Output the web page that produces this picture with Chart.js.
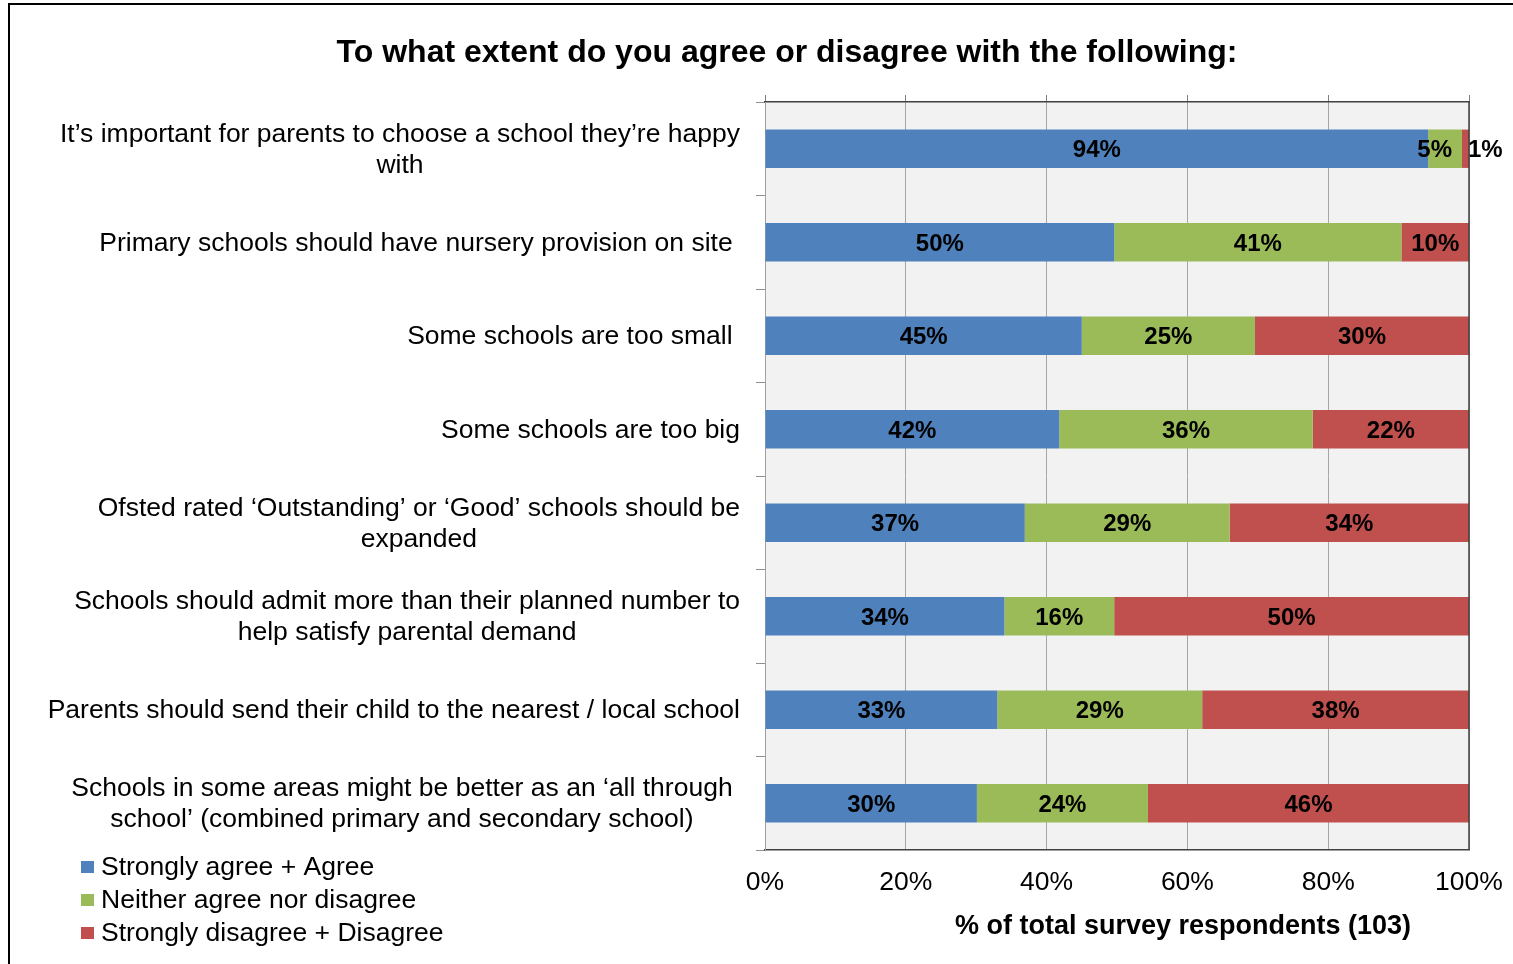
<!DOCTYPE html>
<html>
<head>
<meta charset="utf-8">
<script src="https://cdn.jsdelivr.net/npm/chart.js@4.4.1/dist/chart.umd.min.js"></script>
<style>
html,body{margin:0;padding:0;background:#fff;}
#wrap{position:relative;width:1513px;height:964px;overflow:hidden;}
canvas{display:block;}
</style>
</head>
<body>
<div id="wrap"><canvas id="c" width="1513" height="964"></canvas></div>
<script>
// ---- data ----
const chartTitle = "To what extent do you agree or disagree with the following:";
const xAxisTitle = "% of total survey respondents (103)";
const categories = [
  ["It’s important for parents to choose a school they’re happy", "with"],
  ["Primary schools should have nursery provision on site "],
  ["Some schools are too small "],
  ["Some schools are too big"],
  ["Ofsted rated ‘Outstanding’ or ‘Good’ schools should be", "expanded"],
  ["Schools should admit more than their planned number to", "help satisfy parental demand"],
  ["Parents should send their child to the nearest / local school"],
  ["Schools in some areas might be better as an ‘all through ", "school’ (combined primary and secondary school) "]
];
const seriesNames = ["Strongly agree + Agree", "Neither agree nor disagree", "Strongly disagree + Disagree"];
const agree    = [94.2, 49.6, 45.0, 41.8, 36.9, 34.0, 33.0, 30.1];
const neither  = [4.8, 40.8, 24.6, 36.0, 29.1, 15.6, 29.1, 24.3];
const disagree = [1.0, 9.6, 30.4, 22.2, 34.0, 50.4, 37.9, 45.6];
const xTickValues = [0, 20, 40, 60, 80, 100];
const xTickLabels = ["0%", "20%", "40%", "60%", "80%", "100%"];
const colors = ["#4F81BD", "#9BBB59", "#C0504D"];

const FONT = '"Liberation Sans", Arial, sans-serif';
const TXT = 26.5;

const decorPlugin = {
  id: 'decor',
  beforeDraw(chart) {
    const ctx = chart.ctx, ca = chart.chartArea;
    ctx.save();
    ctx.fillStyle = '#ffffff';
    ctx.fillRect(0, 0, chart.width, chart.height);
    ctx.strokeStyle = '#000';
    ctx.lineWidth = 2;
    ctx.strokeRect(9, 4, 3000, 3000);
    ctx.fillStyle = '#F2F2F2';
    ctx.fillRect(ca.left, ca.top, ca.right - ca.left, ca.bottom - ca.top);
    ctx.restore();
  },
  afterDraw(chart) {
    const ctx = chart.ctx, ca = chart.chartArea;
    ctx.save();
    // right plot border
    ctx.strokeStyle = '#404040';
    ctx.lineWidth = 1.5;
    ctx.beginPath();
    ctx.moveTo(ca.right, ca.top);
    ctx.lineTo(ca.right, ca.bottom);
    ctx.stroke();

    // title
    ctx.fillStyle = '#000';
    ctx.textAlign = 'center';
    ctx.textBaseline = 'middle';
    ctx.font = 'bold 32px ' + FONT;
    ctx.fillText(chartTitle, 787, 53);

    // x axis title
    ctx.font = 'bold 27px ' + FONT;
    ctx.fillText(xAxisTitle, 1183, 927);

    // category labels (right-aligned blocks, lines centred)
    const ys = chart.scales.y;
    ctx.font = TXT + 'px ' + FONT;
    categories.forEach((lines, i) => {
      const yc = ys.getPixelForValue(i) + 1;
      const w = Math.max(...lines.map(l => ctx.measureText(l).width));
      const cx = 740 - w / 2;
      lines.forEach((l, j) => {
        ctx.fillText(l, cx, yc + (j - (lines.length - 1) / 2) * 31);
      });
    });

    // legend
    ctx.textAlign = 'left';
    chart.data.datasets.forEach((ds, i) => {
      const y = 868 + i * 33;
      ctx.fillStyle = ds.backgroundColor;
      ctx.fillRect(81, y - 7, 13, 12);
      ctx.fillStyle = '#000';
      ctx.fillText(ds.label, 101, y);
    });
    ctx.restore();
  },
  afterDatasetsDraw(chart) {
    const ctx = chart.ctx;
    ctx.save();
    ctx.font = 'bold 24px ' + FONT;
    ctx.fillStyle = '#000';
    ctx.textBaseline = 'middle';
    ctx.textAlign = 'left';
    const n = chart.data.labels.length;
    const nds = chart.data.datasets.length;
    for (let r = 0; r < n; r++) {
      const items = [];
      for (let d = 0; d < nds; d++) {
        const el = chart.getDatasetMeta(d).data[r];
        const v = chart.data.datasets[d].data[r];
        const txt = Math.round(v) + '%';
        const tw = ctx.measureText(txt).width;
        const a = Math.min(el.x, el.base), b = Math.max(el.x, el.base);
        let left = (a + b) / 2 - tw / 2;
        if (tw > b - a && d === nds - 1) left = b - 1;
        items.push({txt, tw, left, y: el.y});
      }
      for (let d = items.length - 2; d >= 0; d--) {
        const nx = items[d + 1];
        if (items[d].left + items[d].tw > nx.left - 16) items[d].left = nx.left - 16 - items[d].tw;
      }
      items.forEach(it => ctx.fillText(it.txt, it.left, it.y + 2));
    }
    ctx.restore();
  }
};

const data = {
  labels: categories,
  datasets: [
    {label: seriesNames[0], data: agree, backgroundColor: colors[0]},
    {label: seriesNames[1], data: neither, backgroundColor: colors[1]},
    {label: seriesNames[2], data: disagree, backgroundColor: colors[2]}
  ].map(d => Object.assign(d, {borderWidth: 0, categoryPercentage: 1, barPercentage: 0.41}))
};

function noSidePad(s) { s.paddingLeft = 0; s.paddingRight = 0; }

new Chart(document.getElementById('c'), {
  type: 'bar',
  data,
  options: {
    indexAxis: 'y',
    responsive: false,
    animation: false,
    events: [],
    layout: {padding: {left: 0, right: 44, top: 0, bottom: 0}},
    plugins: {legend: {display: false}, tooltip: {enabled: false}, title: {display: false}},
    scales: {
      x: {
        stacked: true, min: 0, max: 100, position: 'bottom',
        afterBuildTicks(s) { s.ticks = xTickValues.map(v => ({value: v})); },
        ticks: {
          callback: (v, i) => xTickLabels[i],
          font: {size: TXT, family: FONT}, color: '#000', padding: 17, maxRotation: 0
        },
        grid: {color: '#A6A6A6', drawTicks: false, lineWidth: 1},
        border: {color: '#404040', width: 1.5},
        afterFit(s) { s.height = 114; noSidePad(s); }
      },
      x2: {
        axis: 'x', position: 'top', min: 0, max: 100,
        afterBuildTicks(s) { s.ticks = xTickValues.map(v => ({value: v})); },
        ticks: {display: false},
        grid: {drawOnChartArea: false, tickLength: 7, color: '#808080'},
        border: {color: '#404040', width: 1.5},
        afterFit(s) { s.height = 102; noSidePad(s); }
      },
      y: {
        stacked: true,
        ticks: {display: false},
        grid: {offset: true, drawOnChartArea: false, tickLength: 9, color: '#909090'},
        border: {color: '#A0A0A0', width: 1},
        afterFit(s) { s.width = 765; }
      }
    }
  },
  plugins: [decorPlugin]
});
</script>
</body>
</html>
